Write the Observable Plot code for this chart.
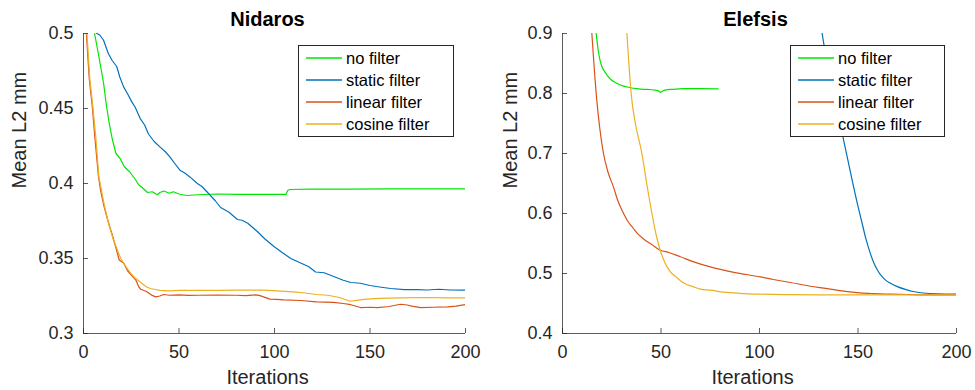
<!DOCTYPE html>
<html><head><meta charset="utf-8">
<script src="https://cdn.jsdelivr.net/npm/d3@7"></script>
<script src="https://cdn.jsdelivr.net/npm/@observablehq/plot@0.6"></script>
<style>
body{margin:0;background:#fff;}
#wrap{position:relative;width:975px;height:390px;font-family:"Liberation Sans",Arial,Helvetica,sans-serif;}
.panel{position:absolute;top:0;}
.legend{position:absolute;}
</style></head><body>
<div id="wrap"></div>
<script>
// ---------- data ----------
const seriesNames = ["no filter", "static filter", "linear filter", "cosine filter"];
const seriesColors = ["#00e600", "#0072BD", "#D95319", "#EDB120"];

const xTicks = [0, 50, 100, 150, 200];
const nidYTicks = [0.3, 0.35, 0.4, 0.45, 0.5];
const elfYTicks = [0.4, 0.5, 0.6, 0.7, 0.8, 0.9];

// Nidaros
const nidNoneX = [4, 5.8, 8, 10.5, 12, 13.5, 15, 17, 19, 21.5, 24, 27, 29, 31, 33.5, 36, 38.7, 40, 42, 45, 47, 50, 54, 60, 70, 80, 90, 100, 106, 107, 108, 120, 140, 160, 180, 200];
const nidNoneY = [0.53, 0.5, 0.485, 0.467, 0.452, 0.44, 0.43, 0.42, 0.417, 0.411, 0.408, 0.403, 0.399, 0.397, 0.394, 0.3945, 0.3925, 0.394, 0.395, 0.3935, 0.3945, 0.393, 0.392, 0.3925, 0.393, 0.3928, 0.3928, 0.3927, 0.3927, 0.3955, 0.396, 0.3962, 0.3963, 0.3964, 0.3964, 0.3964];

const nidStaticX = [5, 7, 8.5, 10.5, 13, 15, 17.4, 19, 21, 23, 25.3, 27, 29.7, 32, 34, 37, 40, 43, 45.2, 48, 50.5, 53, 55.7, 59.6, 62, 65.7, 69, 71.8, 76, 80.6, 83, 86, 91, 95, 99.7, 104, 108.5, 113.7, 118, 121.5, 126, 131, 136, 140, 145, 150, 155, 160.8, 168, 174.7, 180, 186, 192, 200];
const nidStaticY = [0.505, 0.5, 0.499, 0.4955, 0.4867, 0.482, 0.478, 0.471, 0.4644, 0.46, 0.4544, 0.451, 0.4433, 0.439, 0.433, 0.428, 0.4244, 0.421, 0.4177, 0.413, 0.4089, 0.407, 0.4044, 0.4, 0.398, 0.393, 0.3885, 0.384, 0.381, 0.376, 0.3755, 0.3735, 0.368, 0.363, 0.358, 0.354, 0.35, 0.347, 0.3445, 0.341, 0.3405, 0.338, 0.3355, 0.334, 0.3335, 0.332, 0.331, 0.33, 0.3293, 0.3292, 0.329, 0.3295, 0.329, 0.3289];

const nidLinearX = [0, 1.5, 3, 4.7, 6, 7.8, 9, 10.5, 12.6, 15, 17, 18.7, 21, 23, 25, 27.4, 29, 30, 33, 36, 37.8, 40, 42, 45, 50, 55, 60, 70, 80, 85, 90, 92, 97.6, 101, 105, 113.7, 122, 131, 136, 140, 145, 150, 154, 160, 166, 169.5, 172, 176.5, 183, 190.5, 195, 200];
const nidLinearY = [0.56, 0.5, 0.47, 0.45, 0.43, 0.405, 0.395, 0.386, 0.376, 0.366, 0.357, 0.349, 0.347, 0.342, 0.339, 0.3356, 0.331, 0.3295, 0.328, 0.3254, 0.3244, 0.325, 0.326, 0.3255, 0.3258, 0.3254, 0.3255, 0.3256, 0.3255, 0.3252, 0.3257, 0.3254, 0.3229, 0.3228, 0.3224, 0.322, 0.3211, 0.3208, 0.32, 0.3192, 0.3173, 0.3175, 0.3173, 0.318, 0.3195, 0.319, 0.3182, 0.3173, 0.3175, 0.3178, 0.3182, 0.3193];

const nidCosineX = [0, 1.8, 3.3, 5, 6.5, 8, 9.5, 11, 13, 15.5, 19.5, 22, 24.8, 27, 30, 33, 35, 37, 40, 45, 50, 60, 70, 80, 87, 94, 101, 110, 116, 122, 128, 134, 139.5, 144, 148, 155, 166, 180, 190, 200];
const nidCosineY = [0.56, 0.5, 0.47, 0.45, 0.43, 0.405, 0.395, 0.385, 0.374, 0.363, 0.35, 0.345, 0.34, 0.337, 0.334, 0.331, 0.33, 0.3295, 0.3288, 0.3284, 0.3287, 0.3287, 0.3288, 0.3289, 0.3289, 0.3289, 0.3284, 0.3278, 0.327, 0.326, 0.3255, 0.324, 0.3215, 0.3222, 0.3229, 0.3234, 0.3238, 0.324, 0.3238, 0.3238];

// Elefsis
const elfNoneX = [16, 17.1, 18, 19, 20, 21.5, 23, 25, 27, 31, 34, 37.8, 41, 44.5, 47, 48.8, 49.6, 50.5, 52, 56, 61.5, 70, 79];
const elfNoneY = [0.935, 0.9, 0.875, 0.856, 0.845, 0.836, 0.829, 0.822, 0.818, 0.8122, 0.81, 0.808, 0.807, 0.8067, 0.8055, 0.8044, 0.802, 0.8035, 0.8056, 0.807, 0.808, 0.808, 0.8078];

const elfStaticX = [130, 131.8, 135, 138.5, 142, 147, 150, 152, 154, 156, 158, 160, 162, 164, 166.5, 170, 174, 178, 183, 190, 200];
const elfStaticY = [0.95, 0.9, 0.844, 0.789, 0.733, 0.656, 0.612, 0.585, 0.558, 0.536, 0.518, 0.505, 0.4955, 0.489, 0.4838, 0.4782, 0.4735, 0.47, 0.4675, 0.466, 0.4656];

const elfLinearX = [13, 14.9, 17.4, 19, 20.8, 23, 25.9, 28, 31, 33, 36, 38, 41, 45, 49.6, 54, 59.8, 67, 75, 87, 100.4, 107, 115.7, 125.8, 132.6, 141, 151, 158, 166.5, 175, 183, 200];
const elfLinearY = [1.0, 0.9, 0.789, 0.74, 0.7, 0.67, 0.644, 0.622, 0.6, 0.588, 0.575, 0.567, 0.558, 0.549, 0.5388, 0.535, 0.528, 0.519, 0.511, 0.502, 0.4944, 0.49, 0.485, 0.4788, 0.4755, 0.4715, 0.4677, 0.4665, 0.4656, 0.465, 0.4644, 0.4644];

const elfCosineX = [31, 32.7, 35.2, 37, 40.3, 43, 45.4, 47.5, 49.6, 52, 54.7, 57.6, 61.5, 66.5, 70, 75, 81.8, 90, 100, 115, 130, 200];
const elfCosineY = [1.0, 0.9, 0.789, 0.75, 0.7, 0.645, 0.6, 0.565, 0.5388, 0.518, 0.503, 0.4944, 0.484, 0.4778, 0.474, 0.4722, 0.469, 0.467, 0.4656, 0.4647, 0.4644, 0.4644];

// ---------- build ----------
function rows(pairs) {
  const out = [];
  pairs.forEach(([xs, ys], k) => xs.forEach((x, i) => out.push({series: seriesNames[k], x, y: ys[i]})));
  return out;
}
const nidRows = rows([[nidNoneX, nidNoneY], [nidStaticX, nidStaticY], [nidLinearX, nidLinearY], [nidCosineX, nidCosineY]]);
const elfRows = rows([[elfNoneX, elfNoneY], [elfStaticX, elfStaticY], [elfLinearX, elfLinearY], [elfCosineX, elfCosineY]]);

const FONT = '"Liberation Sans", Arial, Helvetica, sans-serif';
const INK = "#262626";
const colorOf = new Map(seriesNames.map((n, i) => [n, seriesColors[i]]));

function panel({data, title, yDomain, yTicks, width, marginLeft, marginRight, titleDx, xlabDx, ylabDx, ylabDy, curve}) {
  const marginTop = 33, marginBottom = 57, height = 390;
  const innerW = width - marginLeft - marginRight;
  const innerH = height - marginTop - marginBottom;
  return Plot.plot({
    width, height, marginLeft, marginRight, marginTop, marginBottom,
    style: {fontFamily: FONT, fontSize: "18px", color: INK, background: "white", overflow: "visible"},
    x: {domain: [0, 200], ticks: xTicks, tickSize: 0, tickPadding: 12, label: null, tickFormat: d => String(d)},
    y: {domain: yDomain, ticks: yTicks, tickSize: 0, tickPadding: 10, label: null, tickFormat: d => String(+d.toFixed(2))},
    marks: [
      Plot.line(data, {x: "x", y: "y", z: "series", stroke: d => colorOf.get(d.series), strokeWidth: 1.2, clip: true, curve}),
      Plot.ruleX([0], {stroke: INK, strokeWidth: 1, strokeOpacity: 0.75}),
      Plot.ruleY([yDomain[0]], {stroke: INK, strokeWidth: 1, strokeOpacity: 0.75}),
      Plot.tickX(xTicks, {x: d => d, insetTop: innerH - 5, stroke: INK, strokeOpacity: 0.75}),
      Plot.tickY(yTicks, {y: d => d, insetRight: innerW - 5, stroke: INK, strokeOpacity: 0.75}),
      Plot.text([title], {text: d => d, frameAnchor: "top", lineAnchor: "bottom", dy: -8, dx: titleDx, fontWeight: "bold", fontSize: 20, fill: "black"}),
      Plot.text(["Iterations"], {text: d => d, frameAnchor: "bottom", lineAnchor: "bottom", dy: 50, dx: xlabDx, fontSize: 20, fill: INK}),
      Plot.text(["Mean L2 mm"], {text: d => d, frameAnchor: "left", lineAnchor: "bottom", rotate: -90, dx: ylabDx, dy: ylabDy, fontSize: 20, fill: INK})
    ]
  });
}

function legend(left, top, width, height) {
  const ns = "http://www.w3.org/2000/svg";
  const svg = document.createElementNS(ns, "svg");
  svg.setAttribute("width", width);
  svg.setAttribute("height", height);
  svg.setAttribute("class", "legend");
  svg.style.left = left + "px";
  svg.style.top = top + "px";
  const rect = document.createElementNS(ns, "rect");
  rect.setAttribute("x", 0.5); rect.setAttribute("y", 0.5);
  rect.setAttribute("width", width - 1); rect.setAttribute("height", height - 1);
  rect.setAttribute("fill", "white"); rect.setAttribute("stroke", INK);
  svg.appendChild(rect);
  seriesNames.forEach((name, i) => {
    const cy = 13 + 22 * i;
    const ln = document.createElementNS(ns, "line");
    ln.setAttribute("x1", 8); ln.setAttribute("x2", 44);
    ln.setAttribute("y1", cy); ln.setAttribute("y2", cy);
    ln.setAttribute("style", "stroke:" + colorOf.get(name) + ";stroke-width:1.3");
    svg.appendChild(ln);
    const t = document.createElementNS(ns, "text");
    t.setAttribute("x", 48); t.setAttribute("y", cy + 6);
    t.setAttribute("font-family", FONT); t.setAttribute("font-size", 16.5);
    t.setAttribute("fill", "black");
    t.textContent = name;
    svg.appendChild(t);
  });
  return svg;
}

const wrap = document.getElementById("wrap");
const left = panel({data: nidRows, title: "Nidaros", yDomain: [0.3, 0.5], yTicks: nidYTicks, width: 490, marginLeft: 83, marginRight: 25, titleDx: -7, xlabDx: -7, ylabDx: -58, ylabDy: 5, curve: "linear"});
const right = panel({data: elfRows, title: "Elefsis", yDomain: [0.4, 0.9], yTicks: elfYTicks, width: 485, marginLeft: 72, marginRight: 19, titleDx: -4, xlabDx: -7, ylabDx: -46, ylabDy: 5, curve: "monotone-x"});
const lp = document.createElement("div"); lp.className = "panel"; lp.style.left = "0px"; lp.appendChild(left);
const rp = document.createElement("div"); rp.className = "panel"; rp.style.left = "490px"; rp.appendChild(right);
wrap.appendChild(lp); wrap.appendChild(rp);
wrap.appendChild(legend(298, 45, 156, 92));
wrap.appendChild(legend(790, 45, 155, 92));
</script>
</body></html>
